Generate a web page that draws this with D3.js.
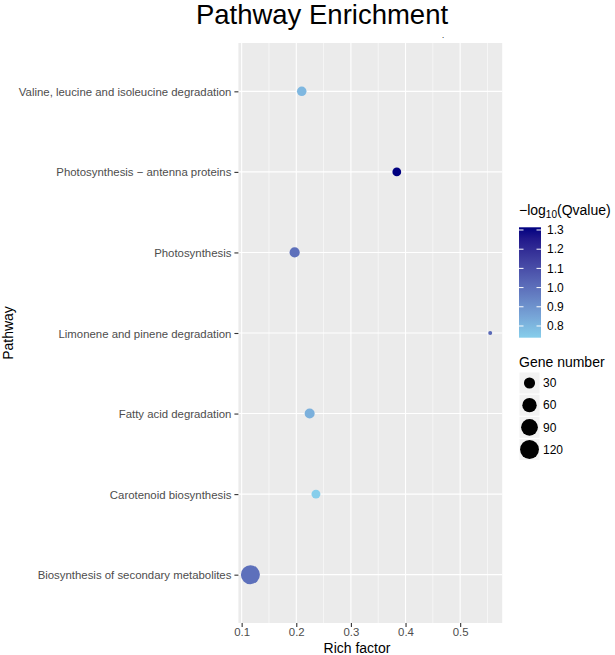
<!DOCTYPE html>
<html>
<head>
<meta charset="utf-8">
<script src="https://cdn.jsdelivr.net/npm/d3@7"></script>
<style>
  body { margin: 0; background: #fff; }
  svg { display: block; font-family: Arial, "Liberation Sans", sans-serif; }
</style>
</head>
<body>
<svg id="chart" width="615" height="655"></svg>
<script>
const pathways = [
  "Valine, leucine and isoleucine degradation",
  "Photosynthesis \u2212 antenna proteins",
  "Photosynthesis",
  "Limonene and pinene degradation",
  "Fatty acid degradation",
  "Carotenoid biosynthesis",
  "Biosynthesis of secondary metabolites"
];
const richFactor = [0.210, 0.384, 0.197, 0.555, 0.2245, 0.236, 0.116];
const qValue = [0.80, 1.314, 1.00, 1.02, 0.82, 0.739, 1.00];
const geneNumber = [19, 15, 23, 3, 22, 16, 122];
const xTicks = [0.1, 0.2, 0.3, 0.4, 0.5];
const xMinor = [0.15, 0.25, 0.35, 0.45, 0.55];
const colorTicks = [0.8, 0.9, 1.0, 1.1, 1.2, 1.3];
const sizeBreaks = [30, 60, 90, 120];

const svg = d3.select("#chart");
const panel = {left: 238.4, right: 502.2, top: 43, bottom: 623};

// x scale with ggplot-style 5% expansion
const xExt = d3.extent(richFactor);
const xPad = (xExt[1] - xExt[0]) * 0.05;
const x = d3.scaleLinear().domain([xExt[0] - xPad, xExt[1] + xPad]).range([panel.left, panel.right]);
const y = d3.scalePoint().domain(pathways).range([panel.top, panel.bottom]).padding(0.6);

const qExt = d3.extent(qValue);
const color = d3.scaleLinear().domain(qExt).range(["#87CEEB", "#000080"]).interpolate(d3.interpolateLab);
const gExt = d3.extent(geneNumber);
const size = n => 1 + 3.0 * (1 + 5 * Math.sqrt(Math.max(0, (n - gExt[0]) / (gExt[1] - gExt[0]))));

// panel
svg.append("rect").attr("x", panel.left).attr("y", panel.top)
  .attr("width", panel.right - panel.left).attr("height", panel.bottom - panel.top)
  .attr("fill", "#EBEBEB");
svg.append("g").selectAll("line").data(xMinor).join("line")
  .attr("x1", d => x(d)).attr("x2", d => x(d)).attr("y1", panel.top).attr("y2", panel.bottom)
  .attr("stroke", "#fff").attr("stroke-width", 0.55);
svg.append("g").selectAll("line").data(xTicks).join("line")
  .attr("x1", d => x(d)).attr("x2", d => x(d)).attr("y1", panel.top).attr("y2", panel.bottom)
  .attr("stroke", "#fff").attr("stroke-width", 1.1);
svg.append("g").selectAll("line").data(pathways).join("line")
  .attr("x1", panel.left).attr("x2", panel.right).attr("y1", d => y(d)).attr("y2", d => y(d))
  .attr("stroke", "#fff").attr("stroke-width", 1.1);

// axes
const xAxis = svg.append("g").attr("transform", `translate(0,${panel.bottom})`)
  .call(d3.axisBottom(x).tickValues(xTicks).tickSize(4).tickPadding(1).tickFormat(d3.format(".1f")));
const yAxis = svg.append("g").attr("transform", `translate(${panel.left},0)`)
  .call(d3.axisLeft(y).tickSize(4).tickPadding(3));
[xAxis, yAxis].forEach(g => {
  g.select(".domain").remove();
  g.selectAll(".tick line").attr("stroke", "#333").attr("stroke-width", 1.1);
  g.selectAll(".tick text").attr("fill", "#4D4D4D").style("font-size", "11.4px")
    .style("font-family", "Arial, 'Liberation Sans', sans-serif");
});
xAxis.selectAll(".tick text").attr("dy", "0.72em");
yAxis.selectAll(".tick text").attr("dy", "0.35em");

// points
const pts = pathways.map((p, i) => ({p, r: richFactor[i], q: qValue[i], g: geneNumber[i]}));
svg.append("g").selectAll("circle").data(pts).join("circle")
  .attr("cx", d => x(d.r)).attr("cy", d => y(d.p)).attr("r", d => size(d.g) / 2)
  .attr("fill", d => color(d.q));

// titles
svg.append("text").attr("x", 322).attr("y", 24).attr("text-anchor", "middle")
  .style("font-size", "27.5px").attr("fill", "#000").text("Pathway Enrichment");
svg.append("text").attr("x", 443).attr("y", 38).attr("text-anchor", "middle")
  .style("font-size", "6px").style("font-weight", "bold").attr("fill", "#000").text(".");
svg.append("text").attr("x", 357).attr("y", 653).attr("text-anchor", "middle")
  .style("font-size", "14px").attr("fill", "#000").text("Rich factor");
svg.append("text").attr("transform", `translate(13,${(panel.top + panel.bottom) / 2}) rotate(-90)`)
  .attr("text-anchor", "middle").style("font-size", "14px").attr("fill", "#000").text("Pathway");

// color legend
const leg = {x: 519, w: 22, top: 227.3, bottom: 337.7};
const cy = d3.scaleLinear().domain(qExt).range([leg.bottom, leg.top]);
const defs = svg.append("defs");
const grad = defs.append("linearGradient").attr("id", "qgrad").attr("x1", 0).attr("y1", 1).attr("x2", 0).attr("y2", 0);
d3.range(0, 1.0001, 0.1).forEach(t => {
  grad.append("stop").attr("offset", t).attr("stop-color", color(qExt[0] + t * (qExt[1] - qExt[0])));
});
const ttl = svg.append("text").attr("x", leg.x).attr("y", 215).style("font-size", "14px").attr("fill", "#000");
ttl.append("tspan").text("\u2212log");
ttl.append("tspan").attr("dy", 3).style("font-size", "10px").text("10");
ttl.append("tspan").attr("dy", -3).text("(Qvalue)");
svg.append("rect").attr("x", leg.x).attr("y", leg.top).attr("width", leg.w).attr("height", leg.bottom - leg.top)
  .attr("fill", "url(#qgrad)");
const ct = svg.append("g");
ct.selectAll("line.l").data(colorTicks).join("line").attr("class", "l")
  .attr("x1", leg.x).attr("x2", leg.x + 4.5).attr("y1", d => cy(d)).attr("y2", d => cy(d))
  .attr("stroke", "#fff").attr("stroke-width", 1);
ct.selectAll("line.r").data(colorTicks).join("line").attr("class", "r")
  .attr("x1", leg.x + leg.w - 4.5).attr("x2", leg.x + leg.w).attr("y1", d => cy(d)).attr("y2", d => cy(d))
  .attr("stroke", "#fff").attr("stroke-width", 1);
ct.selectAll("text").data(colorTicks).join("text")
  .attr("x", leg.x + leg.w + 6).attr("y", d => cy(d)).attr("dy", "0.35em")
  .style("font-size", "12px").attr("fill", "#000").text(d3.format(".1f"));

// size legend
svg.append("text").attr("x", leg.x).attr("y", 367).style("font-size", "14px").attr("fill", "#000").text("Gene number");
const keyY = d3.scalePoint().domain(sizeBreaks).range([383, 449.5]);
const sk = svg.append("g");
sk.selectAll("rect").data(sizeBreaks).join("rect")
  .attr("x", leg.x + 0.5).attr("y", d => keyY(d) - 10.5).attr("width", 20).attr("height", 21)
  .attr("fill", "#F2F2F2");
sk.selectAll("circle").data(sizeBreaks).join("circle")
  .attr("cx", leg.x + 10.5).attr("cy", d => keyY(d)).attr("r", d => size(d) / 2).attr("fill", "#000");
sk.selectAll("text").data(sizeBreaks).join("text")
  .attr("x", leg.x + 24).attr("y", d => keyY(d)).attr("dy", "0.35em")
  .style("font-size", "12px").attr("fill", "#000").text(d => d);
</script>
</body>
</html>
